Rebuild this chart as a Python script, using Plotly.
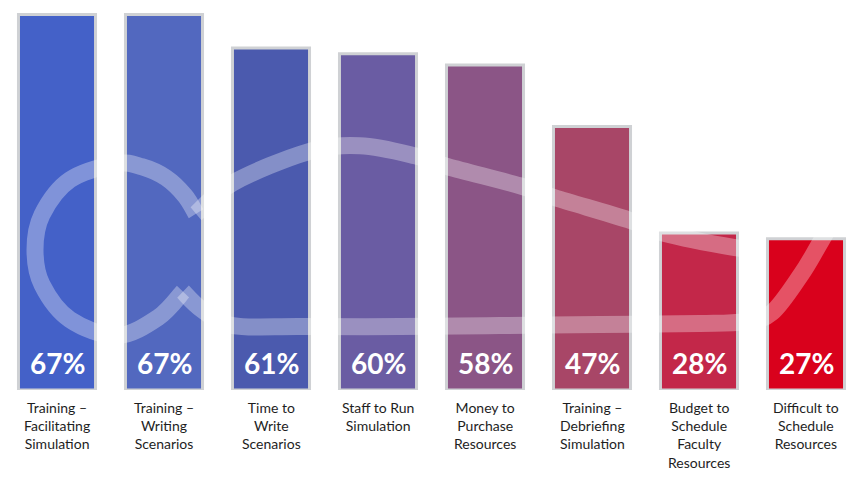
import plotly.graph_objects as go

# ---- data ----
categories = [
    "Training –<br>Facilitating<br>Simulation",
    "Training –<br>Writing<br>Scenarios",
    "Time to<br>Write<br>Scenarios",
    "Staff to Run<br>Simulation",
    "Money to<br>Purchase<br>Resources",
    "Training –<br>Debriefing<br>Simulation",
    "Budget to<br>Schedule<br>Faculty<br>Resources",
    "Difficult to<br>Schedule<br>Resources",
]
values = [67, 67, 61, 60, 58, 47, 28, 27]
value_labels = [f"{v}%" for v in values]
bar_colors = ["#4461c8", "#5268bf", "#4b5aae", "#6a5ca3", "#8b5586",
              "#a84667", "#c32749", "#d9011c"]

# ---- layout geometry (screen pixels; the page body adds an 8px margin) ----
PAGE_OFF = 8
W, H = 865 - PAGE_OFF, 478 - PAGE_OFF
BASE_PX = 390.5 - PAGE_OFF      # baseline pixel row inside the figure
FIRST_CENTER = 57.0 - PAGE_OFF  # first bar centre inside the figure
STEP = 107.0
PX_PER_UNIT = 5.612
y_top = BASE_PX / PX_PER_UNIT
x_range = [-FIRST_CENTER / STEP, (W - FIRST_CENTER) / STEP]

x = list(range(len(values)))

fig = go.Figure()
fig.add_trace(go.Bar(
    x=x, y=values, width=0.72,
    marker=dict(color=bar_colors, line=dict(color="#cfd1d4", width=3)),
    hoverinfo="skip",
))

for i, t in enumerate(value_labels):
    fig.add_annotation(x=i, y=0, xref="x", yref="y", text=t, showarrow=False,
                       yanchor="middle", yshift=27.5,
                       font=dict(family="Lato", size=28, color="white", weight="bold"))

for i, t in enumerate(categories):
    fig.add_annotation(x=i, y=0, xref="x", yref="y", text=t, showarrow=False,
                       yanchor="top", yshift=-6.5, align="center",
                       font=dict(family="Lato", size=14, color="#1e1e1e"))

# ---- decorative translucent swoosh (screen-pixel control points) ----
swoosh_c = [(196, 214), (185, 196), (166, 178), (142, 167), (117, 164), (70, 180),
            (42, 215), (35, 250), (42, 285), (70, 320), (117, 336), (158, 318),
            (183, 292)]
swoosh_low = [(183, 292), (202, 310), (233, 326), (300, 327), (400, 327), (500, 326),
              (600, 325), (700, 324), (745, 322), (772, 313), (801, 275), (819, 245),
              (842, 205)]
swoosh_top = [(196, 214), (233, 183), (308, 152), (360, 146), (415, 156), (448, 167),
              (520, 186), (555, 198), (628, 220), (662, 233), (735, 248), (760, 250)]


def to_paper(p):
    px, py = p[0] - PAGE_OFF, p[1] - PAGE_OFF
    return (px / W, (BASE_PX - py) / BASE_PX)


def cr_path(pts):
    pts = [pts[0]] + pts + [pts[-1]]
    x0, y0 = to_paper(pts[1])
    d = f"M {x0:.5f},{y0:.5f}"
    for i in range(1, len(pts) - 2):
        p0, p1, p2, p3 = pts[i - 1], pts[i], pts[i + 1], pts[i + 2]
        c1 = (p1[0] + (p2[0] - p0[0]) / 6, p1[1] + (p2[1] - p0[1]) / 6)
        c2 = (p2[0] - (p3[0] - p1[0]) / 6, p2[1] - (p3[1] - p1[1]) / 6)
        a, b, c = to_paper(c1), to_paper(c2), to_paper(p2)
        d += f" C {a[0]:.5f},{a[1]:.5f} {b[0]:.5f},{b[1]:.5f} {c[0]:.5f},{c[1]:.5f}"
    return d


for pts in (swoosh_c, swoosh_low, swoosh_top):
    fig.add_shape(type="path", path=cr_path(pts), xref="paper", yref="paper",
                  line=dict(color="rgba(255,255,255,0.32)", width=17),
                  fillcolor="rgba(0,0,0,0)", layer="above")

fig.update_layout(
    width=W, height=H,
    margin=dict(l=0, r=0, t=0, b=H - BASE_PX),
    paper_bgcolor="white", plot_bgcolor="white",
    showlegend=False,
    xaxis=dict(range=x_range, visible=False, fixedrange=True),
    yaxis=dict(range=[0, y_top], visible=False, fixedrange=True),
)

fig.write_html("out.html")
